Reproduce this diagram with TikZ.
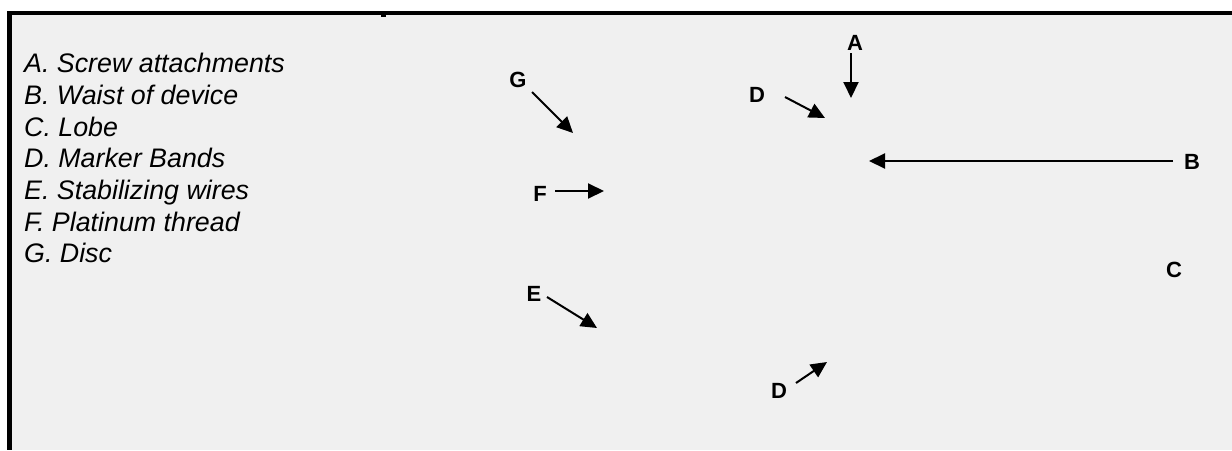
\documentclass[tikz,border=0pt]{standalone}
\usepackage{fontspec}
\setmainfont{Liberation Sans}
\usetikzlibrary{arrows.meta}
\definecolor{panel}{RGB}{240,240,240}

\begin{document}
\begin{tikzpicture}[x=1pt, y=-1pt]
    \tikzset{tag/.style={font=\fontsize{22}{22}\selectfont\bfseries, inner sep=0pt},
             pointer/.style={-{Triangle[length=16pt, width=15pt]}, line width=2pt}}
    \useasboundingbox (0,0) rectangle (1232,450);
    \fill[white] (0,0) rectangle (1232,450);
    \fill[panel] (12,15) rectangle (1232,450);
    \fill (7,11) rectangle (1232,15);
    \fill (7,11) rectangle (12,450);
    \fill (381,15) rectangle (386,17);
    \node[anchor=north west, inner sep=0pt, align=left,
          font=\fontsize{26.8}{31.7}\selectfont\itshape] (legend) at (24,53)
        {A. Screw attachments\\ B. Waist of device\\ C. Lobe\\ D. Marker Bands\\
         E. Stabilizing wires\\ F. Platinum thread\\ G. Disc};
    \node[tag] (A) at (855,43) {A};
    \node[tag] (B) at (1192,162) {B};
    \node[tag] (C) at (1174,270) {C};
    \node[tag] (D1) at (757,95) {D};
    \node[tag] (D2) at (779,391) {D};
    \node[tag] (E) at (534,294) {E};
    \node[tag] (F) at (540,194) {F};
    \node[tag] (G) at (518,80) {G};
    \coordinate (a0) at (851,53);   \coordinate (a1) at (851,98);
    \coordinate (b0) at (1173,161); \coordinate (b1) at (869,161);
    \coordinate (d0) at (785,97);   \coordinate (d1) at (825,118);
    \coordinate (d2) at (796,383);  \coordinate (d3) at (827,362);
    \coordinate (e0) at (547,297);  \coordinate (e1) at (597,328);
    \coordinate (f0) at (555,191);  \coordinate (f1) at (604,191);
    \coordinate (g0) at (532,92);   \coordinate (g1) at (573,133);
    \draw[pointer] (a0) -- (a1);
    \draw[pointer] (b0) -- (b1);
    \draw[pointer] (d0) -- (d1);
    \draw[pointer] (d2) -- (d3);
    \draw[pointer] (e0) -- (e1);
    \draw[pointer] (f0) -- (f1);
    \draw[pointer] (g0) -- (g1);
\end{tikzpicture}
\end{document}
